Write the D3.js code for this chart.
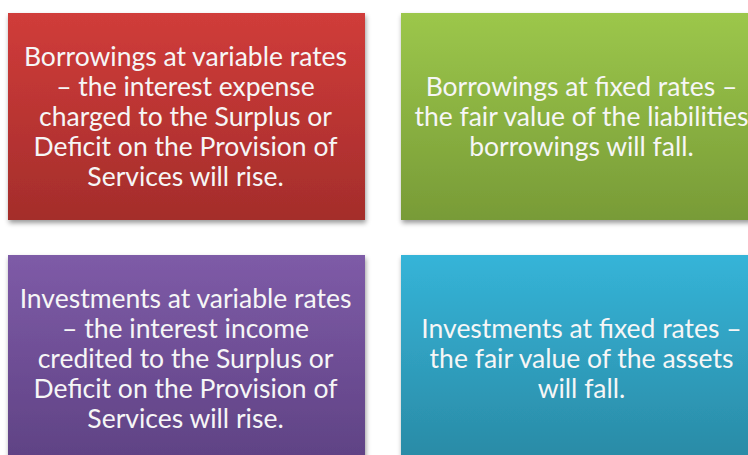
<!DOCTYPE html>
<html>
<head>
<meta charset="utf-8">
<script src="https://cdn.jsdelivr.net/npm/d3@7"></script>
<style>
  html, body { margin: 0; padding: 0; background: #ffffff; }
  svg { display: block; }
</style>
</head>
<body>
<svg id="chart" width="748" height="455"></svg>
<script>
// ---- data ----
const boxIds = ["bv", "bf", "iv", "if"];
const boxCols = [0, 1, 0, 1];
const boxRows = [0, 0, 1, 1];
const boxLines = [
  ["Borrowings at variable rates", "\u2013 the interest expense", "charged to the Surplus or", "Deficit on the Provision of", "Services will rise."],
  ["Borrowings at fixed rates \u2013", "the fair value of the liabilities", "borrowings will fall."],
  ["Investments at variable rates", "\u2013 the interest income", "credited to the Surplus or", "Deficit on the Provision of", "Services will rise."],
  ["Investments at fixed rates \u2013", "the fair value of the assets", "will fall."]
];
const topColors = ["#d03c3a", "#9cc74b", "#7e5ba7", "#35b4d8"];
const bottomColors = ["#a42d2b", "#789b37", "#5f4284", "#2a8aa5"];

// ---- layout ----
const svg = d3.select("#chart");
const boxW = 357, boxH = 207;
const xScale = d3.scaleOrdinal().domain([0, 1]).range([8, 401]);
const yScale = d3.scaleOrdinal().domain([0, 1]).range([13, 255]);
const lineH = 30;

const defs = svg.append("defs");
const f = defs.append("filter").attr("id", "shadow")
  .attr("x", "-10%").attr("y", "-10%").attr("width", "130%").attr("height", "130%");
f.append("feDropShadow").attr("dx", 1).attr("dy", 3).attr("stdDeviation", 2.5)
  .attr("flood-color", "#000").attr("flood-opacity", 0.4);

boxIds.forEach((id, i) => {
  const g = defs.append("linearGradient").attr("id", "grad-" + id)
    .attr("x1", 0).attr("y1", 0).attr("x2", 0).attr("y2", 1);
  g.append("stop").attr("offset", "0%").attr("stop-color", topColors[i]);
  g.append("stop").attr("offset", "100%").attr("stop-color", bottomColors[i]);
});

const data = boxIds.map((id, i) => ({
  id, col: boxCols[i], row: boxRows[i], lines: boxLines[i]
}));

const boxes = svg.selectAll("g.box").data(data).join("g")
  .attr("class", "box")
  .attr("transform", d => `translate(${xScale(d.col)},${yScale(d.row)})`);

boxes.append("rect")
  .attr("width", boxW).attr("height", boxH)
  .attr("fill", d => `url(#grad-${d.id})`)
  .attr("filter", "url(#shadow)");

boxes.each(function(d) {
  const g = d3.select(this);
  const n = d.lines.length;
  const cx = boxW / 2 + (d.col === 1 ? 2 : -1);
  const startY = boxH / 2 - (n - 1) * lineH / 2 + 0;
  g.selectAll("text").data(d.lines).join("text")
    .attr("x", cx)
    .attr("y", (t, j) => startY + j * lineH)
    .attr("dy", "0.35em")
    .attr("text-anchor", "middle")
    .attr("fill", "#f6f6f6")
    .style("font-family", "Lato, 'Open Sans', sans-serif")
    .style("font-size", "26.5px")
    .text(t => t);
});
</script>
</body>
</html>
